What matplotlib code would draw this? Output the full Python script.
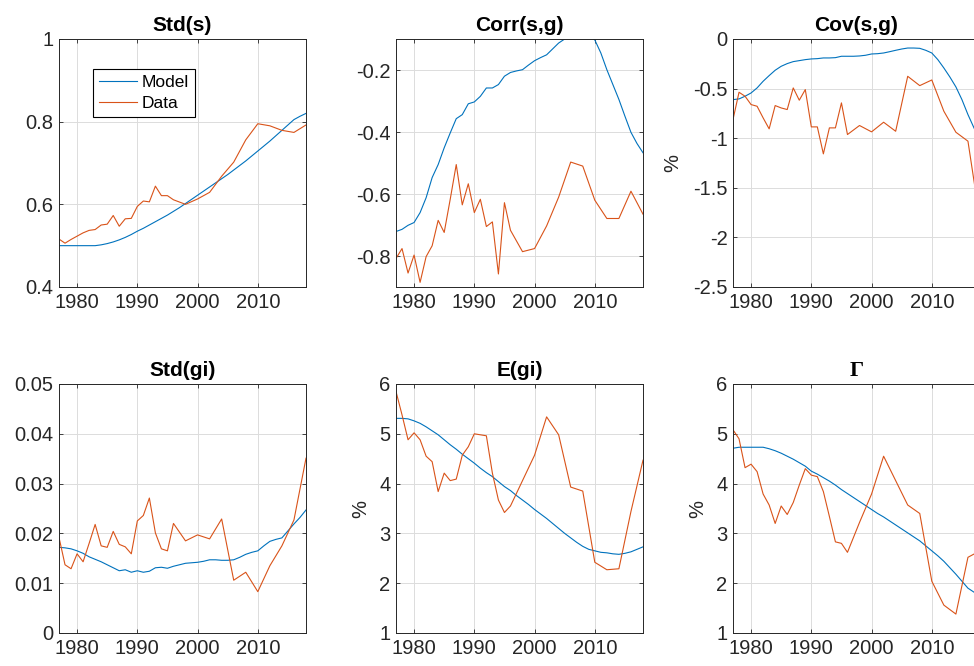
import matplotlib
matplotlib.use("Agg")
import matplotlib.pyplot as plt
from matplotlib.ticker import FuncFormatter

plt.rcParams['font.family'] = ['Liberation Sans', 'DejaVu Sans']

# ---------------- data ----------------
years_model = list(range(1977, 2019))
years_data = [1977, 1978, 1979, 1980, 1981, 1982, 1983, 1984, 1985, 1986,
              1987, 1988, 1989, 1990, 1991, 1992, 1993, 1994, 1995, 1996,
              1998, 2000, 2002, 2004, 2006, 2008, 2010, 2012, 2014, 2016, 2018]

std_s_model = [0.500, 0.500, 0.500, 0.500, 0.500, 0.500, 0.500, 0.502, 0.505, 0.509,
               0.514, 0.520, 0.527, 0.535, 0.542, 0.550, 0.558, 0.566, 0.574, 0.583,
               0.592, 0.602, 0.612, 0.622, 0.632, 0.642, 0.652, 0.662, 0.672, 0.683,
               0.694, 0.705, 0.717, 0.729, 0.741, 0.753, 0.766, 0.779, 0.792, 0.805,
               0.813, 0.820]
std_s_data = [0.516, 0.506, 0.515, 0.523, 0.531, 0.537, 0.539, 0.550, 0.552, 0.573,
              0.547, 0.565, 0.566, 0.595, 0.608, 0.606, 0.644, 0.621, 0.621, 0.611,
              0.600, 0.613, 0.629, 0.668, 0.702, 0.756, 0.795, 0.790, 0.779, 0.774, 0.792]

corr_model = [-0.721, -0.714, -0.701, -0.692, -0.660, -0.612, -0.547, -0.505, -0.451, -0.403,
              -0.357, -0.344, -0.309, -0.303, -0.285, -0.258, -0.258, -0.247, -0.220, -0.208,
              -0.203, -0.199, -0.184, -0.170, -0.160, -0.151, -0.132, -0.113, -0.100, -0.088,
              -0.080, -0.080, -0.088, -0.103, -0.145, -0.199, -0.247, -0.295, -0.349, -0.401,
              -0.437, -0.467]
corr_data = [-0.808, -0.776, -0.855, -0.797, -0.885, -0.802, -0.767, -0.685, -0.724, -0.617,
             -0.505, -0.635, -0.567, -0.660, -0.617, -0.705, -0.690, -0.858, -0.628, -0.717,
             -0.786, -0.776, -0.703, -0.610, -0.497, -0.510, -0.620, -0.679, -0.679, -0.591, -0.665]

cov_model = [-0.611, -0.604, -0.577, -0.544, -0.493, -0.426, -0.369, -0.315, -0.275, -0.248,
             -0.228, -0.218, -0.208, -0.201, -0.198, -0.191, -0.191, -0.188, -0.174, -0.174,
             -0.174, -0.171, -0.164, -0.151, -0.148, -0.141, -0.128, -0.114, -0.101, -0.091,
             -0.091, -0.094, -0.114, -0.141, -0.208, -0.292, -0.383, -0.483, -0.611, -0.762,
             -0.896, -1.020]
cov_data = [-0.812, -0.537, -0.577, -0.661, -0.678, -0.795, -0.906, -0.671, -0.695, -0.711,
            -0.493, -0.617, -0.510, -0.886, -0.886, -1.158, -0.896, -0.896, -0.644, -0.963,
            -0.872, -0.936, -0.839, -0.930, -0.376, -0.470, -0.413, -0.728, -0.940, -1.030, -1.830]

std_gi_model = [0.0172, 0.0171, 0.0169, 0.0165, 0.0160, 0.0153, 0.0148, 0.0143, 0.0137, 0.0131,
                0.0125, 0.0127, 0.0122, 0.0125, 0.0122, 0.0124, 0.0131, 0.0132, 0.0130, 0.0134,
                0.0137, 0.0140, 0.0141, 0.0142, 0.0144, 0.0147, 0.0147, 0.0146, 0.0146, 0.0147,
                0.0152, 0.0158, 0.0162, 0.0165, 0.0175, 0.0184, 0.0188, 0.0191, 0.0205, 0.0219,
                0.0232, 0.0247]
std_gi_data = [0.0192, 0.0137, 0.0129, 0.0159, 0.0143, 0.0180, 0.0218, 0.0175, 0.0172, 0.0204,
               0.0178, 0.0173, 0.0159, 0.0225, 0.0236, 0.0271, 0.0201, 0.0169, 0.0165, 0.0220,
               0.0185, 0.0197, 0.0189, 0.0229, 0.0106, 0.0122, 0.0083, 0.0135, 0.0175, 0.0227, 0.0351]

egi_model = [5.31, 5.31, 5.30, 5.26, 5.21, 5.14, 5.06, 4.98, 4.88, 4.78,
             4.69, 4.59, 4.50, 4.41, 4.31, 4.22, 4.14, 4.04, 3.94, 3.86,
             3.76, 3.67, 3.58, 3.48, 3.39, 3.30, 3.20, 3.10, 3.00, 2.91,
             2.82, 2.74, 2.68, 2.65, 2.62, 2.61, 2.59, 2.58, 2.60, 2.63,
             2.68, 2.73]
egi_data = [5.85, 5.38, 4.88, 5.02, 4.88, 4.55, 4.44, 3.84, 4.21, 4.06,
            4.09, 4.57, 4.74, 5.00, 4.98, 4.96, 4.21, 3.67, 3.42, 3.55,
            4.06, 4.57, 5.34, 4.98, 3.93, 3.85, 2.42, 2.27, 2.29, 3.44, 4.47]

gamma_model = [4.71, 4.73, 4.73, 4.73, 4.73, 4.73, 4.70, 4.66, 4.61, 4.55,
               4.49, 4.42, 4.35, 4.25, 4.19, 4.12, 4.05, 3.97, 3.88, 3.80,
               3.72, 3.64, 3.56, 3.48, 3.40, 3.33, 3.25, 3.17, 3.09, 3.01,
               2.93, 2.85, 2.75, 2.65, 2.55, 2.44, 2.31, 2.18, 2.04, 1.90,
               1.82, 1.78]
gamma_data = [5.08, 4.90, 4.32, 4.39, 4.24, 3.79, 3.57, 3.20, 3.55, 3.38,
              3.62, 3.97, 4.30, 4.17, 4.14, 3.84, 3.34, 2.83, 2.80, 2.62,
              3.22, 3.79, 4.55, 4.06, 3.57, 3.40, 2.04, 1.56, 1.38, 2.52, 2.65]

titles = ['Std(s)', 'Corr(s,g)', 'Cov(s,g)', 'Std(gi)', 'E(gi)', 'Γ']
xticks = [1980, 1990, 2000, 2010]

# ---------------- layout ----------------
W, H = 974, 666
fig = plt.figure(figsize=(W / 100, H / 100), dpi=100)

col_x = [59, 396, 733]
row_y = [(39, 287), (384, 633)]
aw = 247

BLUE = '#0072BD'
RED = '#D95319'
AX_COL = '#262626'

fmt = FuncFormatter(lambda v, p: ('%g' % round(v, 6)) if abs(v) > 1e-12 else '0')

panels = [
    (std_s_model, std_s_data, (0.4, 1.0), [0.4, 0.6, 0.8, 1.0], None),
    (corr_model, corr_data, (-0.9, -0.1), [-0.8, -0.6, -0.4, -0.2], None),
    (cov_model, cov_data, (-2.5, 0.0), [-2.5, -2, -1.5, -1, -0.5, 0], -0.205),
    (std_gi_model, std_gi_data, (0.0, 0.05), [0, 0.01, 0.02, 0.03, 0.04, 0.05], None),
    (egi_model, egi_data, (1, 6), [1, 2, 3, 4, 5, 6], -0.105),
    (gamma_model, gamma_data, (1, 6), [1, 2, 3, 4, 5, 6], -0.105),
]

for i, (mod, dat, ylim, yt, ylab_x) in enumerate(panels):
    r, c = divmod(i, 3)
    top, bot = row_y[r]
    ax = fig.add_axes([col_x[c] / W, 1 - bot / H, aw / W, (bot - top) / H])
    ax.plot(years_model, mod, color=BLUE, lw=0.8, label='Model')
    ax.plot(years_data, dat, color=RED, lw=0.8, label='Data')
    ax.set_xlim(1977, 2018)
    ax.set_ylim(*ylim)
    ax.set_xticks(xticks)
    ax.set_yticks(yt)
    ax.yaxis.set_major_formatter(fmt)
    ax.grid(True, color='#dcdcdc', lw=0.7)
    ax.set_axisbelow(True)
    ax.tick_params(direction='in', length=3, width=0.6, top=True, right=True,
                   labelsize=14.5, colors=AX_COL, pad=4)
    for s in ax.spines.values():
        s.set_color(AX_COL)
        s.set_linewidth(0.7)
    if i == 5:
        ax.set_title(titles[i], fontsize=16, fontweight='bold',
                     family=['Liberation Serif', 'DejaVu Serif'], pad=6)
    else:
        ax.set_title(titles[i], fontsize=15, fontweight='bold', pad=6)
    if ylab_x is not None:
        ax.set_ylabel('%', fontsize=14.5, color=AX_COL)
        ax.yaxis.set_label_coords(ylab_x, 0.5)
    if i == 0:
        leg = ax.legend(loc='upper left', bbox_to_anchor=(0.138, 0.88), fontsize=12.5,
                        frameon=True, fancybox=False, edgecolor='black', framealpha=1,
                        handlelength=2.2, borderpad=0.35, labelspacing=0.35,
                        handletextpad=0.25, borderaxespad=0)
        leg.get_frame().set_linewidth(0.8)

fig.savefig('out.png', dpi=100)
